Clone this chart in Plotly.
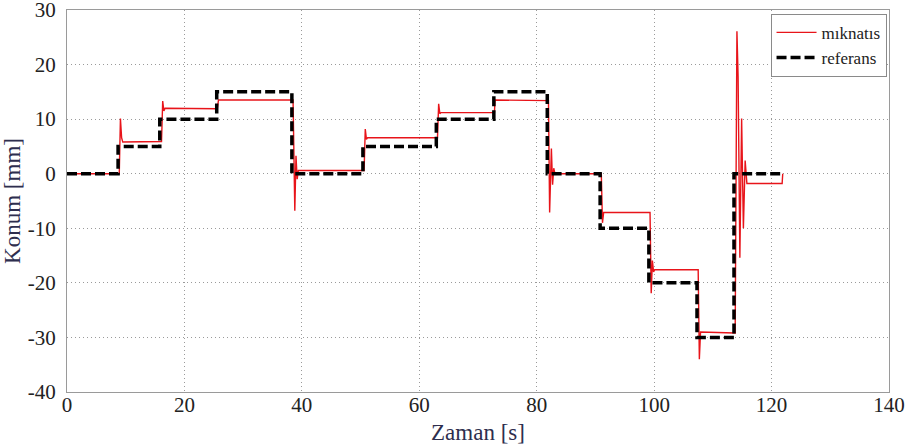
import plotly.graph_objects as go

# Reference (setpoint) position steps: start time of each step [s] and level [mm]
ref_t = [0, 8.7, 15.8, 25.5, 38.3, 50.4, 62.9, 72.7, 81.8, 90.8, 99.1, 107.3, 113.6, 121.8]
ref_y = [0, 5, 10, 15, 0, 5, 10, 15, 0, -10, -20, -30, 0, 0]

# Measured magnet position [mm] over time [s]
mag_t = [0, 8.9, 9.1, 9.3, 9.5, 16.0,
         16.1, 16.3, 16.5, 16.7, 25.6,
         25.8, 38.4,
         38.5, 38.8, 39.0, 39.2, 39.4, 50.5,
         50.6, 50.8, 51.0, 51.2, 63.0,
         63.1, 63.3, 63.5, 63.7, 72.8,
         72.9, 81.9,
         82.0, 82.2, 82.5, 82.7, 82.9, 83.1, 90.9,
         91.0, 91.2, 91.4, 99.2,
         99.3, 99.5, 99.7, 99.9, 100.1, 107.4,
         107.5, 107.7, 107.9, 113.7,
         113.8, 114.1, 114.3, 114.6, 114.9, 115.2, 115.5, 115.8, 121.8, 121.9]
mag_y = [0, 0, 10.1, 6.6, 5.8, 5.8,
         5.9, 13.3, 11.5, 12.0, 11.9,
         13.5, 13.5,
         13.5, -6.8, 3.3, -1.0, 0.6, 0.6,
         0.6, 8.2, 6.3, 6.6, 6.6,
         6.6, 12.8, 11.0, 11.2, 11.2,
         13.5, 13.4,
         13.4, -7.1, 4.6, -2.0, 1.0, 0.0, 0.0,
         0.0, -9.0, -7.1, -7.1,
         -7.1, -21.9, -15.9, -18.0, -17.6, -17.6,
         -17.6, -34.0, -29.0, -29.2,
         -29.2, 26.1, 17.8, -15.4, 10.1, -10.0, 2.4, -1.8, -1.8, 0.0]

x_ticks = [0, 20, 40, 60, 80, 100, 120, 140]
y_ticks = [-40, -30, -20, -10, 0, 10, 20, 30]

SERIF = "Liberation Serif, Times New Roman, serif"
TITLE_COLOR = "#2e2e4e"

fig = go.Figure()
fig.add_trace(go.Scatter(
    x=mag_t, y=mag_y, mode="lines", name="mıknatıs",
    line=dict(color="#e8141a", width=1.4),
))
fig.add_trace(go.Scatter(
    x=ref_t, y=ref_y, mode="lines", name="referans",
    line=dict(color="black", width=3.5, dash="10px,4px", shape="hv"),
))

axis_common = dict(
    showline=True, mirror=True, linecolor="#9a9a9a", linewidth=1.2,
    showgrid=True, gridcolor="#9a9a9a", griddash="1px,3px", gridwidth=1.2,
    zeroline=False,
    tickfont=dict(family=SERIF, size=21, color="#222222"),
    ticklabeloverflow="allow",
)

fig.update_xaxes(
    range=[0, 140], tickvals=x_ticks, ticktext=[str(v) for v in x_ticks],
    ticks="", ticklabelstandoff=-6,
    title=dict(text="Zaman [s]", font=dict(family=SERIF, size=23, color=TITLE_COLOR), standoff=8),
    **axis_common,
)
fig.update_yaxes(
    range=[-40, 30], tickvals=y_ticks, ticktext=[str(v) for v in y_ticks],
    ticks="", ticklabelstandoff=6,
    title=dict(text="Konum [mm]", font=dict(family=SERIF, size=23, color=TITLE_COLOR), standoff=0),
    **axis_common,
)

fig.update_layout(
    width=906, height=445,
    margin=dict(l=67, r=17, t=10, b=53, autoexpand=False),
    paper_bgcolor="white", plot_bgcolor="white",
    showlegend=True,
    legend=dict(
        x=0.997, xanchor="right", y=0.99, yanchor="top",
        bgcolor="white", bordercolor="#8a8a8a", borderwidth=1,
        font=dict(family=SERIF, size=17, color="#222222"),
        itemwidth=40,
    ),
)

fig.write_html("out.html")
